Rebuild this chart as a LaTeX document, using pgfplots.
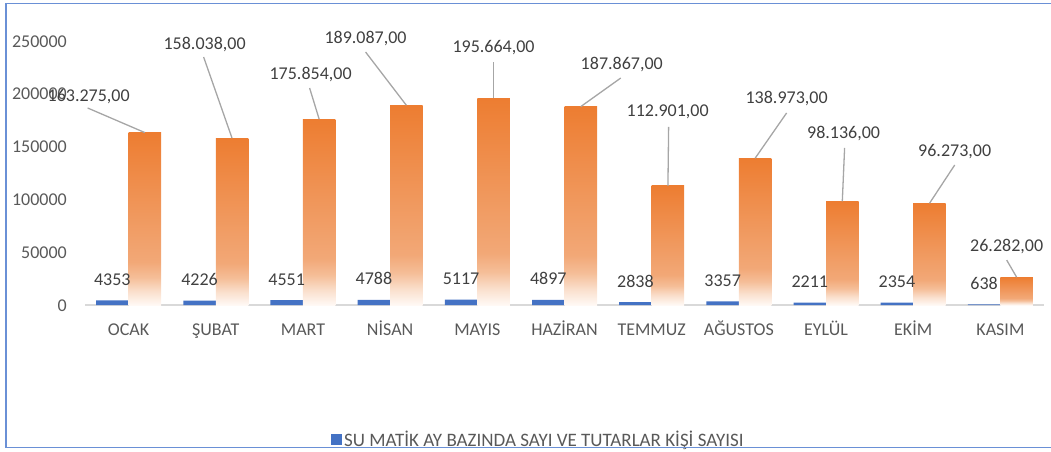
\documentclass[border=0pt]{standalone}
\usepackage{fontspec}
\setmainfont{Carlito}
\usepackage{pgfplots}
\usepackage{pgfplotstable}
\pgfplotsset{compat=1.18}
\definecolor{myblue}{HTML}{4472C4}
\definecolor{ogtop}{HTML}{ED7D31}
\definecolor{og3}{HTML}{F2A877}
\definecolor{og2}{HTML}{F5BE98}
\definecolor{og1}{HTML}{FADFCC}
\definecolor{ogw}{HTML}{FFF9F5}
\definecolor{tickgray}{HTML}{595959}
\definecolor{labgray}{HTML}{404040}
\definecolor{axisgray}{HTML}{D9D9D9}
\definecolor{leadgray}{HTML}{A6A6A6}
\definecolor{framecol}{HTML}{6A90D6}
\pgfdeclareverticalshading{orangegrad}{100bp}{color(0bp)=(ogw); color(25bp)=(ogw); color(29bp)=(og1); color(33bp)=(og2); color(37.5bp)=(og3); color(75bp)=(ogtop); color(100bp)=(ogtop)}
\pgfplotstableread{
x cnt amt
0 4353 163275
1 4226 158038
2 4551 175854
3 4788 189087
4 5117 195664
5 4897 187867
6 2838 112901
7 3357 138973
8 2211 98136
9 2354 96273
10 638 26282
}\datatable
\begin{document}
\begin{tikzpicture}[x=1pt,y=1pt,
  leader/.style={draw=leadgray, line width=1.3pt},
  olab/.style={anchor=base, inner sep=0pt, font=\fontsize{18}{21}\selectfont, text=labgray}]
\useasboundingbox (0,0) rectangle (1051,451);
\begin{axis}[
  at={(85pt,146pt)}, anchor=south west,
  scale only axis, width=959pt, height=264pt,
  xmin=-0.5, xmax=10.5, ymin=0, ymax=250000,
  clip=false,
  axis x line=bottom, axis y line=left,
  axis line style={-},
  y axis line style={draw=none},
  x axis line style={draw=axisgray, line width=1.5pt},
  xtick={0,...,10},
  xticklabels={OCAK,ŞUBAT,MART,NİSAN,MAYIS,HAZİRAN,TEMMUZ,AĞUSTOS,EYLÜL,EKİM,KASIM},
  ytick={0,50000,100000,150000,200000,250000},
  yticklabels={0,50000,100000,150000,200000,250000},
  scaled y ticks=false,
  major tick length=0pt,
  tick style={draw=none},
  tick label style={font=\fontsize{18}{21}\selectfont, text=tickgray},
  xticklabel style={anchor=base, inner sep=0pt, yshift=-30pt},
  yticklabel style={anchor=base east, inner sep=0pt, xshift=-18pt, yshift=-6pt},
  legend style={draw=none, fill=none, at={(0.2565,-0.5076)}, anchor=west, inner sep=0pt,
    font=\fontsize{19}{22}\selectfont, text=tickgray},
  legend cell align=left,
]
\addplot[ybar, bar width=32.5pt, bar shift=-16.25pt, fill=myblue, draw=none,
  point meta=explicit symbolic, nodes near coords={\pgfplotspointmeta},
  every node near coord/.append style={anchor=base, inner sep=0pt, xshift=-16.25pt, yshift=15pt, font=\fontsize{18}{21}\selectfont, text=labgray},
  legend image code/.code={\fill[myblue] (0pt,-5.5pt) rectangle (11pt,5.5pt);}]
  table[x=x, y=cnt, meta=cnt] {\datatable};
\addlegendentry{SU MATİK AY BAZINDA SAYI VE TUTARLAR KİŞİ SAYISI}
\pgfplotsinvokeforeach{0,...,10}{
\addplot[ybar, bar width=32.5pt, bar shift=16.25pt, draw=none, shade, shading=orangegrad, forget plot,
  restrict expr to domain={\coordindex}{#1:#1}]
  table[x=x, y=amt] {\datatable};
}
\draw[leader] ([xshift=16.25pt]axis cs:0,163275) -- ++(-57.2pt,24.6pt);
\node[olab] at ([shift={(-39.95pt,30.6pt)}]axis cs:0,163275) {163.275,00};
\draw[leader] ([xshift=16.25pt]axis cs:1,158038) -- ++(-28.4pt,81.1pt);
\node[olab] at ([shift={(-11.15pt,89.1pt)}]axis cs:1,158038) {158.038,00};
\draw[leader] ([xshift=16.25pt]axis cs:2,175854) -- ++(-9.6pt,31.3pt);
\node[olab] at ([shift={(7.65pt,40.3pt)}]axis cs:2,175854) {175.854,00};
\draw[leader] ([xshift=16.25pt]axis cs:3,189087) -- ++(-40.8pt,53.3pt);
\node[olab] at ([shift={(-24.55pt,62.3pt)}]axis cs:3,189087) {189.087,00};
\draw[leader] ([xshift=16.25pt]axis cs:4,195664) -- ++(0pt,36.4pt);
\node[olab] at ([shift={(16.25pt,45.4pt)}]axis cs:4,195664) {195.664,00};
\draw[leader] ([xshift=16.25pt]axis cs:5,187867) -- ++(40pt,28.6pt);
\node[olab] at ([shift={(57.25pt,37.6pt)}]axis cs:5,187867) {187.867,00};
\draw[leader] ([xshift=16.25pt]axis cs:6,112901) -- ++(0.7pt,58.8pt);
\node[olab] at ([shift={(15.95pt,68.8pt)}]axis cs:6,112901) {112.901,00};
\draw[leader] ([xshift=16.25pt]axis cs:7,138973) -- ++(31.5pt,45.3pt);
\node[olab] at ([shift={(47.75pt,54.3pt)}]axis cs:7,138973) {138.973,00};
\draw[leader] ([xshift=16.25pt]axis cs:8,98136) -- ++(2.3pt,53.4pt);
\node[olab] at ([shift={(17.55pt,62.4pt)}]axis cs:8,98136) {98.136,00};
\draw[leader] ([xshift=16.25pt]axis cs:9,96273) -- ++(25.2pt,38.3pt);
\node[olab] at ([shift={(41.45pt,47.3pt)}]axis cs:9,96273) {96.273,00};
\draw[leader] ([xshift=16.25pt]axis cs:10,26282) -- ++(-10pt,17.2pt);
\node[olab] at ([shift={(6.25pt,26.2pt)}]axis cs:10,26282) {26.282,00};
\end{axis}
\draw[framecol, line width=1.5pt] (1060,447.5) -- (6,447.5) -- (6,3.5) -- (1060,3.5);
\end{tikzpicture}
\end{document}
